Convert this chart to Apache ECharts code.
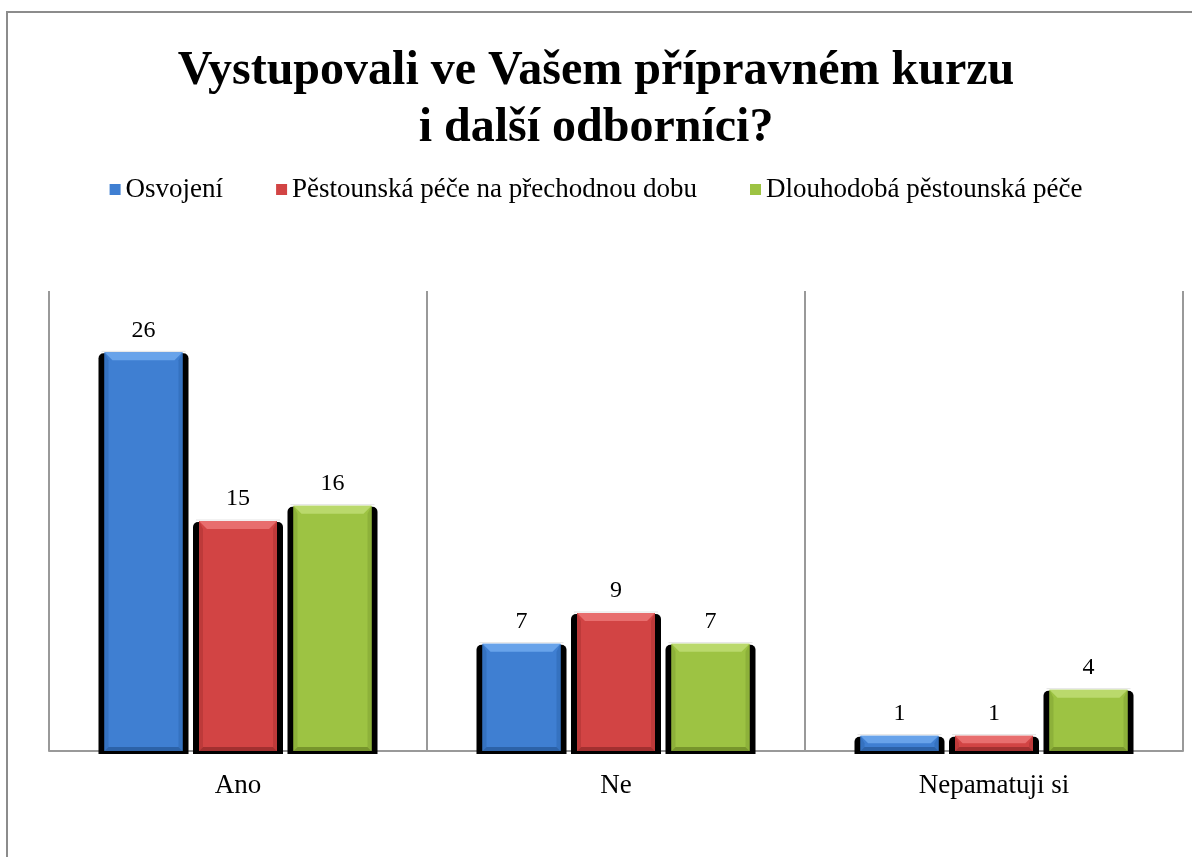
<!DOCTYPE html>
<html>
<head>
<meta charset="utf-8">
<script src="https://cdn.jsdelivr.net/npm/echarts@6/dist/echarts.min.js"></script>
<style>
  html, body { margin: 0; padding: 0; background: #fff; }
  #chart { width: 1192px; height: 857px; }
</style>
</head>
<body>
<div id="chart"></div>
<script>
var categories = ['Ano', 'Ne', 'Nepamatuji si'];
var seriesNames = ['Osvojení', 'Pěstounská péče na přechodnou dobu', 'Dlouhodobá pěstounská péče'];
var osvojeni = [26, 7, 1];
var prechodna = [15, 9, 1];
var dlouhodoba = [16, 7, 4];

var palette = [
    { body: '#3f7fd2', light: '#68a3ea', side: '#3572c0', dark: '#2c62a8' },
    { body: '#d24444', light: '#e86e6e', side: '#bd3a3a', dark: '#a23030' },
    { body: '#9dc343', light: '#bad96c', side: '#8db13a', dark: '#77952c' }
];

(function () {
    var myChart = echarts.init(document.querySelector('#chart'));
    var serif = '"Liberation Serif", "Times New Roman", serif';

    function barRenderer(offset, c) {
        return function (params, api) {
            var top = api.coord([api.value(0), api.value(1)]);
            var base = api.coord([api.value(0), 0]);
            var step = api.size([1, 0])[0] * 0.25;
            var w = 78;
            var cx = top[0] + offset * step;
            var x = cx - w / 2, y = top[1], h = base[1] - top[1];
            var b = Math.min(8, h / 2);
            var s = Math.min(4, h / 2);
            return {
                type: 'group',
                children: [
                    { type: 'rect', shape: { x: x - 6, y: y + 1, width: w + 12, height: h + 2, r: [5, 5, 0, 0] }, style: { fill: '#000' } },
                    { type: 'rect', shape: { x: x, y: y, width: w, height: h }, style: { fill: c.body } },
                    { type: 'polygon', shape: { points: [[x, y], [x + w, y], [x + w - b, y + b], [x + b, y + b]] }, style: { fill: c.light } },
                    { type: 'polygon', shape: { points: [[x, y], [x + s, y + b], [x + s, y + h - s], [x, y + h]] }, style: { fill: c.side } },
                    { type: 'polygon', shape: { points: [[x + w, y], [x + w - s, y + b], [x + w - s, y + h - s], [x + w, y + h]] }, style: { fill: c.side } },
                    { type: 'polygon', shape: { points: [[x, y + h], [x + w, y + h], [x + w - s, y + h - s], [x + s, y + h - s]] }, style: { fill: c.dark } },
                    { type: 'line', shape: { x1: x - 3, y1: y - 1, x2: x + w + 3, y2: y - 1 }, style: { stroke: '#e4e4e4', lineWidth: 1 } },
                    { type: 'text', style: { text: String(api.value(1)), x: cx, y: y - 22, align: 'center', verticalAlign: 'middle', font: '24px ' + serif, fill: '#000' } }
                ]
            };
        };
    }

    var values = [osvojeni, prechodna, dlouhodoba];
    var series = values.map(function (vals, i) {
        return {
            name: seriesNames[i],
            type: 'custom',
            renderItem: barRenderer(i - 1, palette[i]),
            itemStyle: { color: palette[i].body },
            encode: { x: 0, y: 1 },
            data: vals.map(function (v, k) { return [k, v]; })
        };
    });

    myChart.setOption({
        animation: false,
        backgroundColor: '#fff',
        graphic: [{
            type: 'rect',
            shape: { x: 7, y: 12, width: 1300, height: 1000 },
            style: { fill: 'none', stroke: '#8c8c8c', lineWidth: 2 },
            z: -1
        }],
        title: {
            text: 'Vystupovali ve Vašem přípravném kurzu\ni další odborníci?',
            left: 'center',
            top: 38,
            textStyle: { fontFamily: serif, fontWeight: 'bold', fontSize: 48, lineHeight: 57, color: '#000' }
        },
        legend: {
            top: 171,
            left: 'center',
            icon: 'rect',
            itemWidth: 11,
            itemHeight: 11,
            itemGap: 53,
            data: seriesNames,
            textStyle: { fontFamily: serif, fontSize: 27, color: '#000' }
        },
        grid: { left: 49, right: 9, top: 291, bottom: 106 },
        xAxis: {
            type: 'category',
            data: categories,
            axisLine: { lineStyle: { color: '#999', width: 2 } },
            axisTick: { show: false },
            axisLabel: { fontFamily: serif, fontSize: 27, color: '#000', margin: 21 },
            splitLine: { show: true, lineStyle: { color: '#999', width: 2 } }
        },
        yAxis: {
            type: 'value',
            min: 0,
            max: 30,
            show: false
        },
        series: series
    });
})();
</script>
</body>
</html>
